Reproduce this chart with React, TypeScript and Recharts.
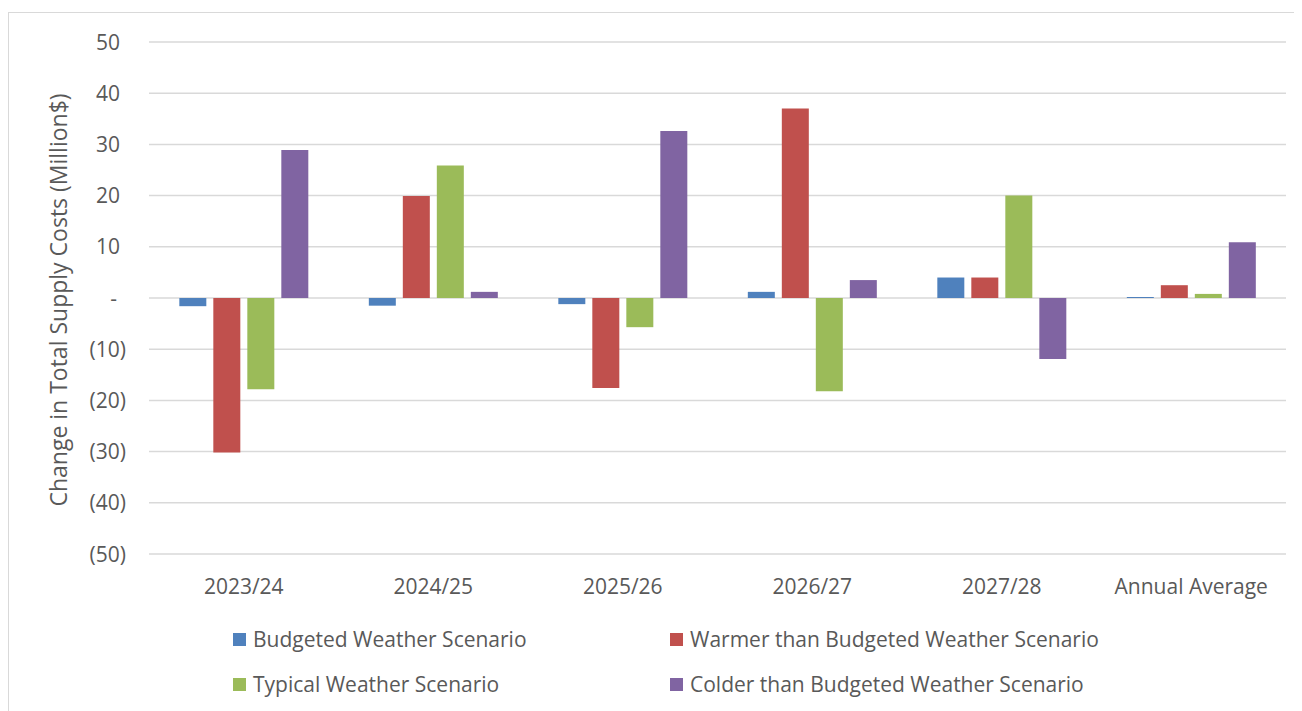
import React from "react";
import { BarChart, Bar, XAxis, YAxis, CartesianGrid } from "recharts";

const categories = ["2023/24", "2024/25", "2025/26", "2026/27", "2027/28", "Annual Average"];
const budgeted = [-1.6, -1.5, -1.2, 1.2, 4.0, 0.2];
const warmer = [-30.2, 19.9, -17.6, 37.0, 4.0, 2.5];
const typical = [-17.8, 25.9, -5.7, -18.2, 20.0, 0.8];
const colder = [28.9, 1.2, 32.6, 3.5, -11.9, 10.9];
const yTicks = [-50, -40, -30, -20, -10, 0, 10, 20, 30, 40, 50];

const series = [
  { key: "budgeted", name: "Budgeted Weather Scenario", color: "#4f81bd" },
  { key: "warmer", name: "Warmer than Budgeted Weather Scenario", color: "#c0504d" },
  { key: "typical", name: "Typical Weather Scenario", color: "#9bbb59" },
  { key: "colder", name: "Colder than Budgeted Weather Scenario", color: "#8064a2" },
];

const rows = categories.map((name, i) => ({
  name,
  budgeted: budgeted[i],
  warmer: warmer[i],
  typical: typical[i],
  colder: colder[i],
}));

const FONT = "'Open Sans', sans-serif";
const TEXT = "#595959";

// accounting-style labels: "-" for zero, brackets for negatives
function YTick({ x, y, payload }: any) {
  const v = payload.value as number;
  const label = v === 0 ? "-" : v < 0 ? `(${-v})` : `${v}`;
  const dx = v < 0 ? 6 : v === 0 ? -3 : 0;
  return (
    <text x={x + dx} y={y} dy="0.36em" textAnchor="end" fill={TEXT} fontSize={21} fontFamily={FONT}>
      {label}
    </text>
  );
}

function YLabel({ viewBox }: any) {
  const cy = viewBox.y + viewBox.height / 2 + 2;
  const cx = 50;
  return (
    <text
      x={cx} y={cy} dy="0.36em" transform={`rotate(-90, ${cx}, ${cy})`}
      textAnchor="middle" fill={TEXT} fontSize={23} fontFamily={FONT}
    >
      Change in Total Supply Costs (Million$)
    </text>
  );
}

function LegendBox() {
  const pos = [
    { left: 224, top: 612 },
    { left: 661, top: 612 },
    { left: 224, top: 657 },
    { left: 661, top: 657 },
  ];
  return (
    <>
      {series.map((s, i) => (
        <div
          key={s.key}
          style={{
            position: "absolute", left: pos[i].left, top: pos[i].top, display: "flex",
            alignItems: "center", fontFamily: FONT, fontSize: 21, color: TEXT, whiteSpace: "nowrap",
            height: 28,
          }}
        >
          <span style={{ width: 13, height: 13, background: s.color, marginRight: 7, display: "inline-block" }} />
          {s.name}
        </div>
      ))}
    </>
  );
}

export default function App() {
  return (
    <div style={{ paddingTop: 4 }}>
      <div style={{ position: "relative", width: 1290, height: 710, border: "1px solid #d9d9d9", background: "#fff" }}>
        <BarChart
          width={1290}
          height={600}
          data={rows}
          margin={{ top: 29, right: 13, bottom: 19, left: 0 }}
          barCategoryGap="16%"
          barGap={7}
        >
          <CartesianGrid vertical={false} stroke="#d9d9d9" strokeWidth={1.5} />
          <XAxis
            dataKey="name"
            axisLine={false}
            tickLine={false}
            tickMargin={19}
            height={40}
            interval={0}
            tick={{ fill: TEXT, fontSize: 21, fontFamily: FONT }}
          />
          <YAxis
            domain={[-50, 50]}
            ticks={yTicks}
            axisLine={false}
            tickLine={false}
            tickMargin={23}
            width={140}
            tick={<YTick />}
            label={<YLabel />}
          />
          {series.map((s) => (
            <Bar key={s.key} dataKey={s.key} name={s.name} fill={s.color} isAnimationActive={false} />
          ))}
        </BarChart>
        <LegendBox />
      </div>
    </div>
  );
}
